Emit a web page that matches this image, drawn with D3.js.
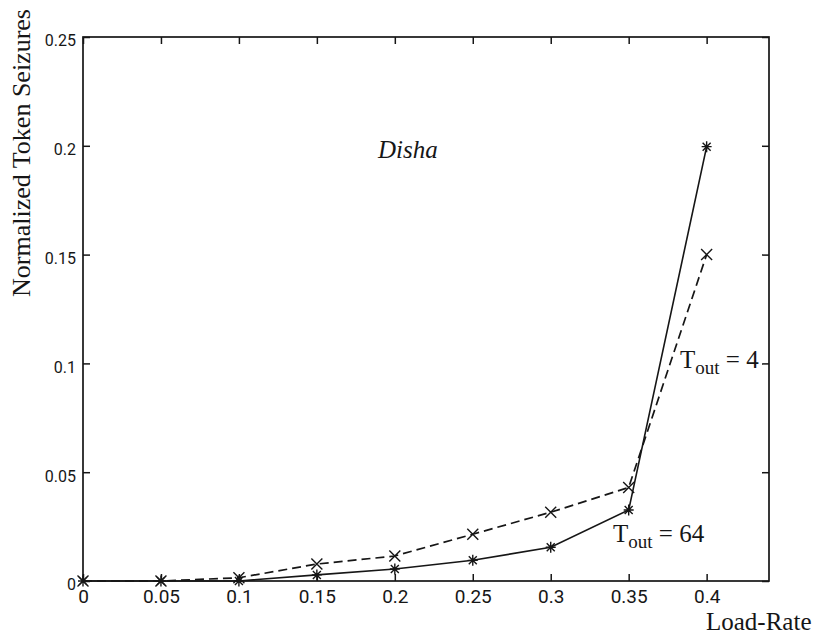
<!DOCTYPE html>
<html>
<head>
<meta charset="utf-8">
<script src="https://cdn.jsdelivr.net/npm/d3@7"></script>
<style>
  html, body { margin: 0; padding: 0; background: #fff; }
  svg { display: block; }
</style>
</head>
<body>
<svg width="821" height="635"></svg>
<script>
(function (d3) {
  var loadRates = [0, 0.05, 0.1, 0.15, 0.2, 0.25, 0.3, 0.35, 0.4]
    , tout4 = [0, 0, 0.0015, 0.0078, 0.0115, 0.0215, 0.0316, 0.043, 0.15]
    , tout64 = [0, 0, 0, 0.0028, 0.0055, 0.0095, 0.0155, 0.0326, 0.1996]
    , xTicks = [0, 0.05, 0.1, 0.15, 0.2, 0.25, 0.3, 0.35, 0.4]
    , yTicks = [0, 0.05, 0.1, 0.15, 0.2, 0.25]
    , xTickLabels = ['0', '0.05', '0.1', '0.15', '0.2', '0.25', '0.3', '0.35', '0.4']
    , yTickLabels = ['0', '0.05', '0.1', '0.15', '0.2', '0.25']
    ;

  var ink = '#161616'
    , serif = '"Liberation Serif", "DejaVu Serif", serif'
    , sans = 'Roboto, "Liberation Sans", sans-serif'
    ;

  var svg = d3.select('svg');

  var x = d3.scaleLinear().domain([0, 0.44]).range([83, 769]);
  var y = d3.scaleLinear().domain([0, 0.25]).range([581, 37]);

  // axes, matlab style: ticks inward on all four sides
  var bottom = svg.append('g')
     .attr('transform', 'translate(0,' + y(0) + ')')
     .call(d3.axisBottom(x).tickValues(xTicks)
       .tickFormat(function (d, i) { return xTickLabels[i]; })
       .tickSizeInner(-7).tickSizeOuter(0).tickPadding(9));
  bottom.selectAll('text')
     .attr('font-family', sans)
     .attr('font-size', '19px')
     .attr('fill', ink);

  var left = svg.append('g')
     .attr('transform', 'translate(' + x(0) + ',0)')
     .call(d3.axisLeft(y).tickValues(yTicks)
       .tickFormat(function (d, i) { return yTickLabels[i]; })
       .tickSizeInner(-7).tickSizeOuter(0).tickPadding(7));
  left.selectAll('text')
     .attr('font-family', sans)
     .attr('font-size', '16px')
     .attr('dy', '0.55em')
     .attr('fill', ink);

  svg.append('g')
     .attr('transform', 'translate(0,' + y(0.25) + ')')
     .call(d3.axisTop(x).tickValues(xTicks).tickFormat('')
       .tickSizeInner(-7).tickSizeOuter(0));

  svg.append('g')
     .attr('transform', 'translate(' + x(0.44) + ',0)')
     .call(d3.axisRight(y).tickValues(yTicks).tickFormat('')
       .tickSizeInner(-7).tickSizeOuter(0));

  svg.selectAll('.domain').remove();
  svg.selectAll('.tick line')
     .attr('stroke', ink)
     .attr('stroke-width', 1.5);

  svg.append('rect')
     .attr('x', x(0))
     .attr('y', y(0.25))
     .attr('width', x(0.44) - x(0))
     .attr('height', y(0) - y(0.25))
     .attr('fill', 'none')
     .attr('stroke', ink)
     .attr('stroke-width', 1.7);

  // series
  var line = d3.line()
     .x(function (d) { return x(d[0]); })
     .y(function (d) { return y(d[1]); });

  var pts4 = loadRates.map(function (r, i) { return [r, tout4[i]]; });
  var pts64 = loadRates.map(function (r, i) { return [r, tout64[i]]; });

  svg.append('path')
     .datum(pts4)
     .attr('d', line)
     .attr('fill', 'none')
     .attr('stroke', ink)
     .attr('stroke-width', 1.7)
     .attr('stroke-dasharray', '9,5');

  svg.append('path')
     .datum(pts64)
     .attr('d', line)
     .attr('fill', 'none')
     .attr('stroke', ink)
     .attr('stroke-width', 1.6);

  var cross = 'M-5.5,-5.5L5.5,5.5M-5.5,5.5L5.5,-5.5';
  var star = 'M-5,0L5,0M0,-5.5L0,5.5M-4,-4L4,4M-4,4L4,-4';

  svg.selectAll('.m4')
     .data(pts4)
     .enter().append('path')
     .attr('class', 'm4')
     .attr('transform', function (d) { return 'translate(' + x(d[0]) + ',' + y(d[1]) + ')'; })
     .attr('d', cross)
     .attr('fill', 'none')
     .attr('stroke', ink)
     .attr('stroke-width', 1.4);

  svg.selectAll('.m64')
     .data(pts64)
     .enter().append('path')
     .attr('class', 'm64')
     .attr('transform', function (d) { return 'translate(' + x(d[0]) + ',' + y(d[1]) + ')'; })
     .attr('d', star)
     .attr('fill', 'none')
     .attr('stroke', ink)
     .attr('stroke-width', 1.4);

  // labels
  svg.append('text')
     .attr('x', 706)
     .attr('y', 630)
     .attr('font-family', serif)
     .attr('font-size', '25px')
     .attr('fill', ink)
     .text('Load-Rate');

  svg.append('text')
     .attr('transform', 'translate(30,153) rotate(-90)')
     .attr('text-anchor', 'middle')
     .attr('font-family', serif)
     .attr('font-size', '26px')
     .attr('fill', ink)
     .text('Normalized Token Seizures');

  svg.append('text')
     .attr('x', 378)
     .attr('y', 158)
     .attr('font-family', serif)
     .attr('font-style', 'italic')
     .attr('font-size', '25px')
     .attr('fill', ink)
     .text('Disha');

  function toutLabel(px, py, value) {
    var t = svg.append('text')
       .attr('x', px)
       .attr('y', py)
       .attr('font-family', serif)
       .attr('font-size', '25px')
       .attr('fill', ink);
    t.append('tspan').text('T');
    t.append('tspan').attr('dy', 6).attr('font-size', '19px').text('out');
    t.append('tspan').attr('dy', -6).text(' = ' + value);
  }

  toutLabel(613, 542, '64');
  toutLabel(680, 368, '4');
})(d3);
</script>
</body>
</html>
